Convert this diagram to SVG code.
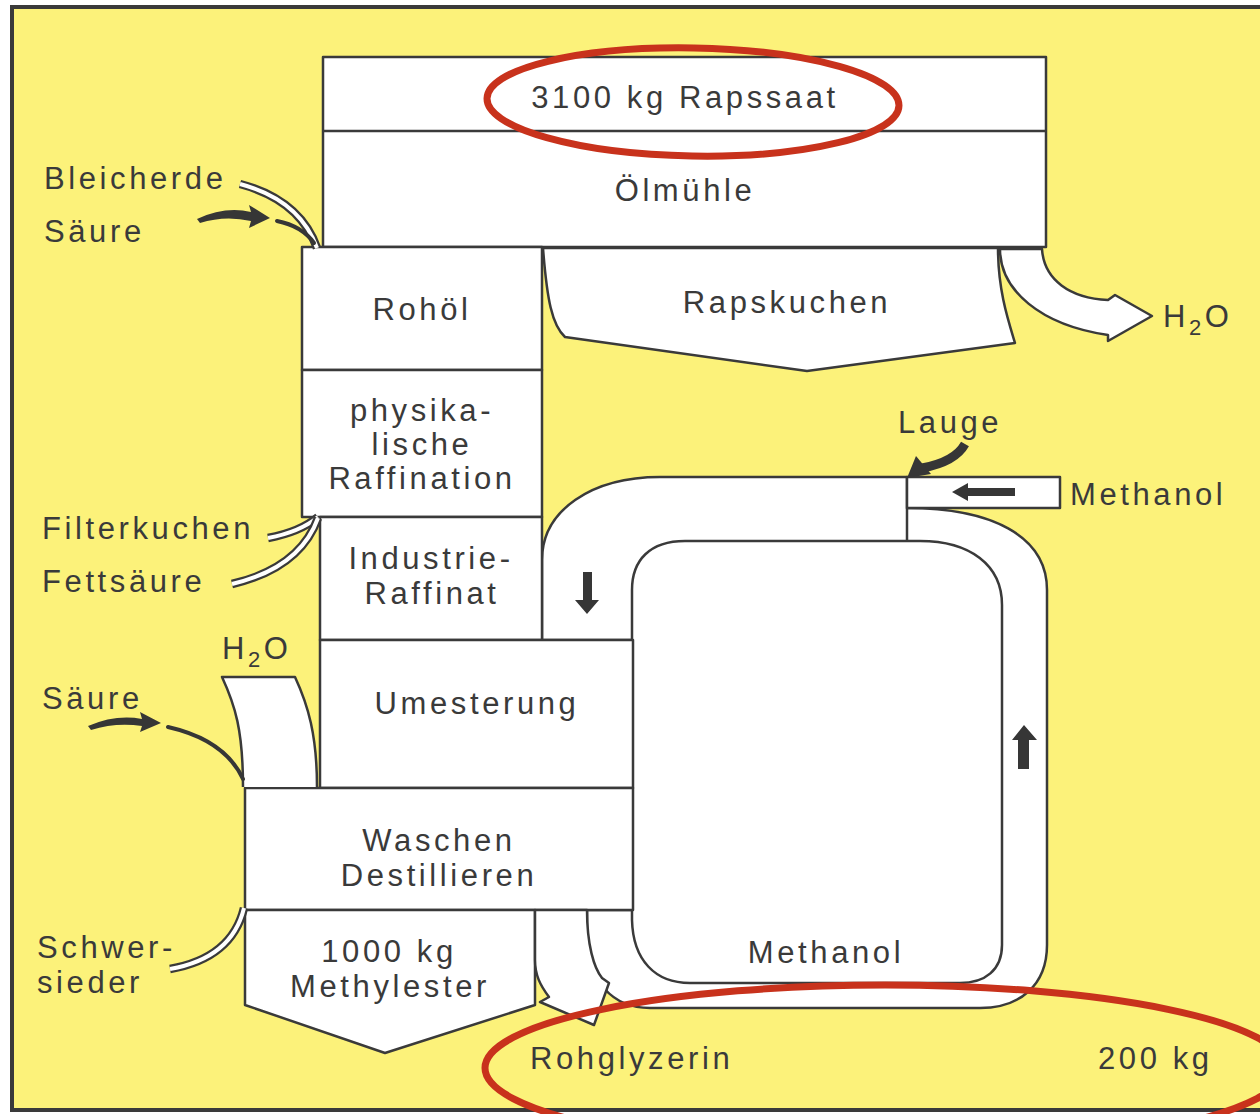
<svg xmlns="http://www.w3.org/2000/svg" width="1260" height="1114" viewBox="0 0 1260 1114">
<style>
.bx{fill:#fff;stroke:#3a3a3a;stroke-width:2.5;stroke-linejoin:round}
.ln{fill:none;stroke:#3a3a3a;stroke-width:2.5}
.t{font-family:"Liberation Sans",Arial,Helvetica,sans-serif;font-size:31px;letter-spacing:3.6px;fill:#3a3a3a}
.c{text-anchor:middle}
.bo{fill:none;stroke:#3a3a3a;stroke-width:8.5}
.bi{fill:none;stroke:#fff;stroke-width:4}
.dk{fill:#363636}
.dl{fill:none;stroke:#363636;stroke-width:4;stroke-linecap:round}
.red{fill:none;stroke:#c8321c;stroke-width:7}
.sub{font-size:22px}
</style>
<rect x="0" y="0" width="1260" height="1114" fill="#fff"/>
<rect x="12" y="7" width="1262" height="1103" fill="#fcf27a" stroke="#3a3a3a" stroke-width="4"/>

<g id="methanol-loop">
<path class="bx" d="M542,640 L542,560 C542,510 592,477 660,477 L907,477 L907,508 C990,508 1047,535 1047,590 L1047,945 C1047,985 1020,1008 980,1008 L650,1008 C612,1008 588,980 587,940 L587,910 L633,910 L633,640 Z"/>
<path class="ln" d="M907,508 L907,541"/>
<path class="bx" d="M632,640 L632,590 C632,560 650,541 685,541 L920,541 C970,541 1002,565 1002,605 L1002,945 C1002,970 985,983 960,983 L690,983 C655,983 633,960 632,920 Z"/>
<text class="t c" x="826" y="963">Methanol</text>
</g>

<g id="methanol-inlet">
<rect class="bx" x="907" y="477" width="153" height="31"/>
</g>

<g id="oelmuehle">
<rect class="bx" x="323" y="57" width="723" height="190"/>
<path class="ln" d="M323,131 L1046,131"/>
<text class="t c" x="685" y="108">3100 kg Rapssaat</text>
<text class="t c" x="685" y="201">Ölmühle</text>
</g>

<g id="rapskuchen">
<path class="bx" d="M543,248 C547,300 552,325 565,337 L807,371 L1015,343 C1008,320 998,290 998,248 Z"/>
<text class="t c" x="787" y="313">Rapskuchen</text>
</g>

<g id="rohoel">
<rect class="bx" x="302" y="247" width="240" height="123"/>
<text class="t c" x="422" y="320">Rohöl</text>
</g>

<g id="raffination">
<rect class="bx" x="302" y="370" width="240" height="147"/>
<text class="t c" x="422" y="421">physika-</text>
<text class="t c" x="422" y="455">lische</text>
<text class="t c" x="422" y="489">Raffination</text>
</g>

<g id="industrie">
<rect class="bx" x="320" y="517" width="222" height="123"/>
<text class="t c" x="431" y="569">Industrie-</text>
<text class="t c" x="432" y="604">Raffinat</text>
</g>

<g id="umesterung">
<rect class="bx" x="320" y="640" width="313" height="148"/>
<text class="t c" x="477" y="714">Umesterung</text>
</g>

<g id="waschen">
<rect class="bx" x="245" y="788" width="388" height="122"/>
<text class="t c" x="439" y="851">Waschen</text>
<text class="t c" x="439" y="886">Destillieren</text>
</g>

<g id="methylester">
<path class="bx" d="M245,910 L535,910 L535,1005 L385,1053 L245,1005 Z"/>
<text class="t c" x="389" y="962">1000 kg</text>
<text class="t c" x="390" y="997">Methylester</text>
</g>

<g id="connectors">
<!-- H2O out of Rapskuchen -->
<path class="bx" d="M1000,249 C1000,290 1040,325 1108,335 L1108,341 L1152,316 L1115,295 L1108,300 C1070,298 1044,280 1042,249 Z"/>
<!-- Rohglyzerin arrow -->
<path class="bx" d="M535,910 L587,910 C587,945 594,968 602,978 L609,983 L594,1025 L540,1002 L549,997 C540,985 535,975 535,960 Z"/>
<!-- H2O into Waschen -->
<path class="bx" d="M243,787 C243,730 235,705 222,677 L295,677 C308,705 317,735 317,787"/>
<!-- Bleicherde band -->
<path class="bo" d="M240,184 Q300,200 317,248"/>
<path class="bi" d="M240,184 Q300,200 317,248"/>
<!-- Filterkuchen / Fettsaeure bands -->
<path class="bo" d="M268,538 Q300,532 318,517"/>
<path class="bi" d="M268,538 Q300,532 318,517"/>
<path class="bo" d="M232,584 Q300,568 318,518"/>
<path class="bi" d="M232,584 Q300,568 318,518"/>
<!-- Schwersieder band -->
<path class="bo" d="M170,969 Q232,958 244,908"/>
<path class="bi" d="M170,969 Q232,958 244,908"/>
<!-- Saeure (top) -->
<path class="dk" d="M197,219 Q225,206 251,212 L249,205 L270,218 L249,228 L251,221 Q225,215 200,223 Z"/>
<path class="dl" d="M277,221 Q302,226 314,243"/>
<!-- Saeure (bottom) -->
<path class="dk" d="M88,726 Q116,714 142,719 L140,712 L161,723 L140,732 L142,726 Q116,722 91,730 Z"/>
<path class="dl" d="M168,727 Q225,740 243,779"/>
<!-- Lauge -->
<path fill="none" stroke="#363636" stroke-width="9" d="M965,444 Q955,462 922,468"/>
<path class="dk" d="M907,478 L916,456 L931,474 Z"/>
<!-- flow arrows -->
<path class="dk" d="M1015,488 L968,488 L968,483 L952,492 L968,501 L968,496 L1015,496 Z"/>
<path class="dk" d="M583,572 L592,572 L592,600 L599,600 L587,614 L575,600 L583,600 Z"/>
<path class="dk" d="M1018,769 L1029,769 L1029,740 L1037,740 L1024,725 L1012,740 L1018,740 Z"/>
</g>

<g id="labels">
<text class="t" x="44" y="189">Bleicherde</text>
<text class="t" x="44" y="242">Säure</text>
<text class="t" x="1163" y="327">H<tspan class="sub" dy="8">2</tspan><tspan dy="-8">O</tspan></text>
<text class="t" x="898" y="433">Lauge</text>
<text class="t" x="1070" y="505">Methanol</text>
<text class="t" x="42" y="539">Filterkuchen</text>
<text class="t" x="42" y="592">Fettsäure</text>
<text class="t" x="222" y="659">H<tspan class="sub" dy="8">2</tspan><tspan dy="-8">O</tspan></text>
<text class="t" x="42" y="709">Säure</text>
<text class="t" x="37" y="958">Schwer-</text>
<text class="t" x="37" y="993">sieder</text>
<text class="t" x="530" y="1069">Rohglyzerin</text>
<text class="t" x="1098" y="1069">200 kg</text>
</g>

<g id="highlights">
<ellipse class="red" cx="693" cy="102" rx="206" ry="54" transform="rotate(1 693 102)"/>
<ellipse class="red" cx="885" cy="1068" rx="400" ry="83"/>
</g>
</svg>
